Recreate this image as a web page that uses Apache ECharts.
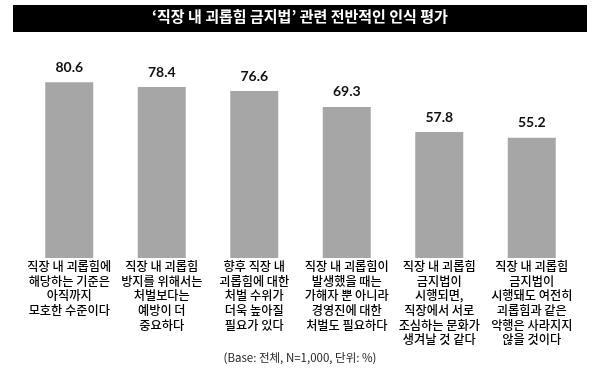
<!DOCTYPE html>
<html>
<head>
<meta charset="utf-8">
<script src="https://cdn.jsdelivr.net/npm/echarts@6/dist/echarts.min.js"></script>
<style>html,body{margin:0;padding:0;background:#fff}#c{width:600px;height:384px}</style>
</head>
<body>
<div id="c"></div>
<script>
const titleText = "‘직장 내 괴롭힘 금지법’ 관련 전반적인 인식 평가";
const footnote = "(Base: 전체, N=1,000, 단위: %)";
const categories = [
  "직장 내 괴롭힘에\n해당하는 기준은\n아직까지\n모호한 수준이다",
  "직장 내 괴롭힘\n방지를 위해서는\n처벌보다는\n예방이 더\n중요하다",
  "향후 직장 내\n괴롭힘에 대한\n처벌 수위가\n더욱 높아질\n필요가 있다",
  "직장 내 괴롭힘이\n발생했을 때는\n가해자 뿐 아니라\n경영진에 대한\n처벌도 필요하다",
  "직장 내 괴롭힘\n금지법이\n시행되면,\n직장에서 서로\n조심하는 문화가\n생겨날 것 같다",
  "직장 내 괴롭힘\n금지법이\n시행돼도 여전히\n괴롭힘과 같은\n악행은 사라지지\n않을 것이다"
];
const values = [80.6, 78.4, 76.6, 69.3, 57.8, 55.2];

const chart = echarts.init(document.getElementById('c'), null, {renderer: 'canvas'});
chart.setOption({
  animation: false,
  backgroundColor: '#ffffff',
  graphic: [
    {type: 'rect', left: 13, top: 5, shape: {width: 574, height: 27}, style: {fill: '#000000'}, z: 0},
    {type: 'text', left: 'center', top: 9, style: {text: titleText, fill: '#ffffff', font: 'bold 15px "Noto Sans CJK KR"'}, z: 1},
    {type: 'text', left: 'center', top: 352, style: {text: footnote, fill: '#222', font: '11.5px "Noto Sans CJK KR"'}}
  ],
  grid: {left: 23, right: 22, top: 40, bottom: 126, containLabel: false},
  xAxis: {
    type: 'category',
    data: categories,
    axisLine: {show: false},
    axisTick: {show: false},
    axisLabel: {
      interval: 0,
      margin: 1,
      color: '#000',
      fontFamily: 'Noto Sans CJK KR',
      fontWeight: 500,
      fontSize: 12.2,
      lineHeight: 14.7,
      align: 'center'
    }
  },
  yAxis: {
    type: 'value', min: 0, max: 100, show: false,
    splitLine: {show: false}
  },
  series: [{
    type: 'bar',
    data: values,
    barWidth: 48,
    itemStyle: {color: '#a6a6a6'},
    label: {
      show: true, position: 'top', distance: 8,
      formatter: p => p.value.toFixed(1),
      color: '#111', fontWeight: 'bold', fontSize: 14, fontFamily: 'Lato'
    }
  }]
});
</script>
</body>
</html>
